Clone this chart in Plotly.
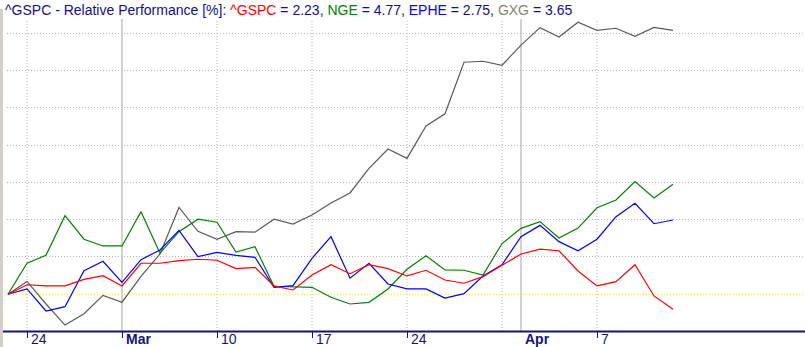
import plotly.graph_objects as go

# Trading days (2014-02-21 .. 2014-04-11), plotted by index
dates = ["2014-02-21", "2014-02-24", "2014-02-25", "2014-02-26", "2014-02-27", "2014-02-28",
         "2014-03-03", "2014-03-04", "2014-03-05", "2014-03-06", "2014-03-07",
         "2014-03-10", "2014-03-11", "2014-03-12", "2014-03-13", "2014-03-14",
         "2014-03-17", "2014-03-18", "2014-03-19", "2014-03-20", "2014-03-21",
         "2014-03-24", "2014-03-25", "2014-03-26", "2014-03-27", "2014-03-28",
         "2014-03-31", "2014-04-01", "2014-04-02", "2014-04-03", "2014-04-04",
         "2014-04-07", "2014-04-08", "2014-04-09", "2014-04-10", "2014-04-11"]

gspc = [0, 0.64, 0.56, 0.56, 1.0, 1.25, 0.56, 2.08, 2.08, 2.25, 2.35, 2.28, 1.72, 1.81, 0.56,
        0.29, 1.29, 1.98, 1.38, 1.98, 1.72, 1.23, 1.61, 0.96, 0.74, 1.18, 1.94, 2.70, 3.02,
        2.92, 1.56, 0.56, 0.85, 1.98, -0.11, -1.0]
nge = [0, 2.08, 2.61, 5.27, 3.69, 3.24, 3.24, 5.54, 2.75, 4.20, 5.03, 4.83, 2.83, 3.19, 0.54,
       0.49, 0.47, -0.20, -0.65, -0.54, 0.36, 1.68, 2.59, 1.63, 1.61, 1.29, 3.4, 4.42, 4.87,
       3.77, 4.44, 5.80, 6.32, 7.55, 6.45, 7.37]
ephe = [0, 0.36, -1.12, -0.83, 1.58, 2.21, 0.80, 2.32, 2.97, 4.28, 2.52, 2.81, 2.61, 2.48, 0.47,
        0.58, 2.41, 3.86, 1.08, 2.08, 0.69, 0.36, 0.36, -0.25, 0.04, 1.23, 1.98, 3.86, 4.62,
        3.53, 2.92, 3.69, 5.20, 6.10, 4.73, 4.98]
gxg = [0, 0.86, -0.65, -2.06, -1.30, -0.07, -0.53, 1.20, 2.70, 5.82, 4.22, 3.69, 4.20, 4.16, 5.03,
       4.70, 5.31, 6.12, 6.79, 8.44, 9.74, 9.11, 11.28, 12.10, 15.55, 15.62, 15.35, 16.7, 17.87,
       17.24, 18.23, 17.69, 17.83, 17.29, 17.89, 17.69]

tick_idx = [1, 6, 11, 16, 21, 27, 31]
tick_labels = ["24", "Mar", "10", "17", "24", "Apr", "7"]
tick_bold = [False, True, False, False, False, True, False]
week_grid_idx = [1, 11, 16, 21, 26, 31]
month_grid_idx = [6, 27]
tick_mark_idx = [1, 6, 11, 16, 21, 31]

title_parts = [("^GSPC - Relative Performance [%]: ", "#10108a"),
               ("^GSPC", "#ff0000"), (" = 2.23, ", "#10108a"),
               ("NGE", "#008000"), (" = 4.77, ", "#10108a"),
               ("EPHE", "#0000ff"), (" = 2.75, ", "#10108a"),
               ("GXG", "#8a8070"), (" = 3.65", "#10108a")]

x = list(range(len(dates)))
fig = go.Figure()
for name, vals, col in [("GXG", gxg, "#5a5a5a"), ("NGE", nge, "#008000"),
                        ("EPHE", ephe, "#0000ff"), ("^GSPC", gspc, "#ff0000")]:
    fig.add_trace(go.Scatter(x=x, y=vals, mode="lines", name=name, customdata=dates,
                             line=dict(color=col, width=1.2),
                             hovertemplate="%{customdata}: %{y:.2f}%<extra>" + name + "</extra>"))

shapes = []
for i in week_grid_idx:
    shapes.append(dict(type="line", xref="x", yref="paper", x0=i, x1=i, y0=0, y1=1,
                       line=dict(color="#b4b4b4", width=1, dash="1px,2px"), layer="below"))
for i in month_grid_idx:
    shapes.append(dict(type="line", xref="x", yref="paper", x0=i, x1=i, y0=0, y1=1,
                       line=dict(color="#c4c4c4", width=1.5), layer="below"))
# zero line
shapes.append(dict(type="line", xref="paper", yref="y", x0=0, x1=1, y0=0, y1=0,
                   line=dict(color="#f0f000", width=1, dash="1px,2px"), layer="below"))
# axis line
shapes.append(dict(type="line", xref="paper", yref="paper", x0=-4 / 798, x1=1, y0=-0.002, y1=-0.002,
                   line=dict(color="#141478", width=2)))
# left border strip
shapes.append(dict(type="rect", xref="paper", yref="paper", x0=-7 / 798, x1=-4 / 798,
                   y0=-16 / 312, y1=1 + 10 / 312, line=dict(width=0), fillcolor="#d4d0c8"))

annotations = []
for i, lab, b in zip(tick_idx, tick_labels, tick_bold):
    annotations.append(dict(x=i, y=-7.5 / 312, xref="x", yref="paper", xanchor="left",
                            yanchor="middle", xshift=2, showarrow=False,
                            text=f"<b>{lab}</b>" if b else lab,
                            font=dict(family="Liberation Sans, Arial", size=14, color="#141478")))
title_html = "".join(f"<span style='color:{c}'>{t}</span>" for t, c in title_parts)
annotations.append(dict(x=-4 / 798, y=1 + 9.5 / 312, xref="paper", yref="paper", xanchor="left",
                        yanchor="middle", showarrow=False, text=title_html,
                        font=dict(family="Liberation Sans, Arial", size=14)))

fig.update_layout(
    width=805, height=347,
    margin=dict(l=7, r=0, t=19, b=16),
    paper_bgcolor="white", plot_bgcolor="white",
    showlegend=False,
    xaxis=dict(range=[-1 / 19, 797 / 19], showgrid=False, zeroline=False, showline=False,
               tickvals=tick_mark_idx, ticktext=[""] * len(tick_mark_idx),
               ticks="outside", ticklen=6, tickwidth=1, tickcolor="#141478"),
    yaxis=dict(range=[-2.46, 18.45], showgrid=True, gridcolor="#b4b4b4", griddash="1px,2px",
               gridwidth=1, tickvals=[2.5 * k for k in range(1, 8)], showticklabels=False,
               zeroline=False, showline=False, ticks=""),
    shapes=shapes, annotations=annotations,
)
fig.write_html("out.html")
